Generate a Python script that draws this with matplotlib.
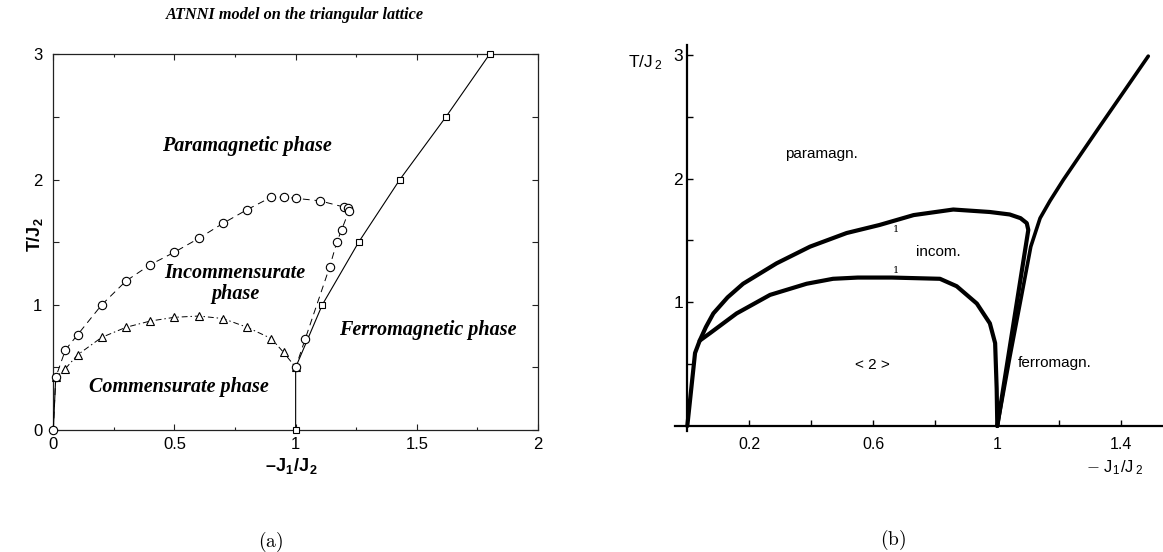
import matplotlib
matplotlib.use('Agg')

import matplotlib.pyplot as plt
from matplotlib.ticker import MultipleLocator

plt.rcParams['font.family'] = ['Liberation Sans', 'DejaVu Sans']
plt.rcParams['mathtext.fontset'] = 'cm'

# ---- panel (a): ATNNI model, simulation points ----
circ_x = [0.0, 0.01, 0.05, 0.1, 0.2, 0.3, 0.4, 0.5, 0.6, 0.7, 0.8, 0.9, 0.95, 1.0,
          1.1, 1.2, 1.215, 1.22, 1.19, 1.17, 1.14, 1.04, 1.0]
circ_y = [0.0, 0.42, 0.64, 0.76, 1.0, 1.19, 1.32, 1.42, 1.53, 1.65, 1.76, 1.86, 1.86, 1.85,
          1.83, 1.78, 1.775, 1.75, 1.60, 1.50, 1.30, 0.73, 0.50]

tri_x = [0.01, 0.05, 0.1, 0.2, 0.3, 0.4, 0.5, 0.6, 0.7, 0.8, 0.9, 0.95, 1.0]
tri_y = [0.42, 0.49, 0.60, 0.74, 0.82, 0.87, 0.90, 0.91, 0.89, 0.82, 0.73, 0.62, 0.50]

sq_left_x = [0.0, 0.01]
sq_left_y = [0.0, 0.42]
sq_x = [1.0, 1.0, 1.11, 1.26, 1.43, 1.62, 1.8]
sq_y = [0.0, 0.5, 1.0, 1.5, 2.0, 2.5, 3.0]

phase_labels_a = ['Paramagnetic phase', 'Incommensurate\nphase', 'Commensurate phase',
                  'Ferromagnetic phase']
phase_pos_a = [(0.80, 2.27), (0.75, 1.17), (0.52, 0.34), (1.545, 0.80)]

# ---- panel (b): reference phase diagram ----
upper_x = [0.0, 0.025, 0.04, 0.06, 0.084, 0.13, 0.18, 0.288, 0.396, 0.514, 0.62, 0.73,
           0.858, 0.976, 1.04, 1.075, 1.095, 1.10, 1.0]
upper_y = [0.0, 0.59, 0.69, 0.80, 0.91, 1.04, 1.15, 1.315, 1.45, 1.56, 1.625, 1.705,
           1.75, 1.73, 1.71, 1.68, 1.64, 1.585, 0.0]

lower_x = [0.04, 0.073, 0.159, 0.267, 0.385, 0.47, 0.55, 0.66, 0.815, 0.869, 0.934,
           0.976, 0.993, 0.998, 1.0]
lower_y = [0.69, 0.75, 0.91, 1.06, 1.15, 1.19, 1.20, 1.20, 1.19, 1.13, 0.99,
           0.83, 0.67, 0.30, 0.0]

ferro_x = [1.0, 1.04, 1.078, 1.108, 1.138, 1.17, 1.213, 1.27, 1.33, 1.41, 1.487]
ferro_y = [0.0, 0.55, 1.05, 1.45, 1.68, 1.82, 1.99, 2.20, 2.42, 2.71, 2.99]

phase_labels_b = ['paramagn.', 'incom.', '< 2 >']
phase_pos_b = [(0.434, 2.2), (0.81, 1.41), (0.597, 0.49)]
ferro_label_pos = (1.067, 0.51)
mark_x = [0.673, 0.673]
mark_y = [1.59, 1.26]

fig = plt.figure(figsize=(11.63, 5.52), dpi=100)

# ---------------- (a) ----------------
ax = fig.add_axes([53.3 / 1163, 1 - 430 / 552, 484.7 / 1163, 375.7 / 552])
ax.set_xlim(0, 2)
ax.set_ylim(0, 3)

ax.plot(sq_left_x, sq_left_y, '-', color='black', lw=0.8, marker='s', ms=4.5,
        mfc='white', mec='black', mew=0.8, zorder=3, clip_on=False)
ax.plot(sq_x, sq_y, '-', color='black', lw=0.8, marker='s', ms=4.5,
        mfc='white', mec='black', mew=0.8, zorder=3, clip_on=False)
ax.plot(tri_x, tri_y, color='black', lw=0.7, dashes=(6, 3, 1.5, 3), marker='^', ms=5.5,
        mfc='white', mec='black', mew=0.8, zorder=4, clip_on=False)
ax.plot(circ_x, circ_y, color='black', lw=0.7, dashes=(7, 5), marker='o', ms=6,
        mfc='white', mec='black', mew=0.8, zorder=5, clip_on=False)

for lab, (px, py) in zip(phase_labels_a, phase_pos_a):
    ax.text(px, py, lab, ha='center', va='center', family='Liberation Serif',
            style='italic', weight='bold', fontsize=14.5, linespacing=1.05)

ax.xaxis.set_major_locator(MultipleLocator(0.5))
ax.xaxis.set_minor_locator(MultipleLocator(0.25))
ax.yaxis.set_major_locator(MultipleLocator(1))
ax.yaxis.set_minor_locator(MultipleLocator(0.5))
ax.set_xticks([0, 0.5, 1, 1.5, 2], ['0', '0.5', '1', '1.5', '2'])
ax.tick_params(which='both', direction='in', top=True, right=True, color='#222222')
ax.tick_params(which='major', length=4.5, width=0.8)
ax.tick_params(which='minor', length=2.5, width=0.8)
ax.tick_params(axis='x', labelsize=12, pad=5)
ax.tick_params(axis='y', labelsize=12, pad=8)
ax.tick_params(axis='y', which='minor', length=4.5)
for sp in ax.spines.values():
    sp.set_linewidth(0.9)
    sp.set_color('#222222')

ax.text(0.492, -0.098, r'–J$_\mathregular{1}$/J$_\mathregular{2}$', transform=ax.transAxes,
        ha='center', va='center', fontsize=13, weight='bold')
ax.text(-0.036, 0.52, r'T/J$_\mathregular{2}$', transform=ax.transAxes, rotation=90,
        ha='center', va='center', fontsize=13, weight='bold')

fig.text(295 / 1163, 1 - 15 / 552, 'ATNNI model on the triangular lattice',
         ha='center', va='center', family='Liberation Serif', style='italic',
         weight='bold', fontsize=11.7)

# ---------------- (b) ----------------
x0, x1 = -0.04, 1.535
y0, y1 = -0.04, 3.08
left_px = 687.3 + x0 * 310
bottom_px = 426 - y0 * 123.7
bx = fig.add_axes([left_px / 1163, 1 - bottom_px / 552,
                   (x1 - x0) * 310 / 1163, (y1 - y0) * 123.7 / 552])
bx.set_xlim(x0, x1)
bx.set_ylim(y0, y1)
bx.spines['top'].set_visible(False)
bx.spines['right'].set_visible(False)
bx.spines['left'].set_position(('data', 0))
bx.spines['bottom'].set_position(('data', 0))
for sp in ('left', 'bottom'):
    bx.spines[sp].set_linewidth(1.6)

lw_b = 3.0
bx.plot(upper_x, upper_y, color='black', lw=lw_b, solid_joinstyle='round',
        solid_capstyle='round')
bx.plot(lower_x, lower_y, color='black', lw=lw_b, solid_joinstyle='round',
        solid_capstyle='round')
bx.plot(ferro_x, ferro_y, color='black', lw=2.6, solid_joinstyle='round',
        solid_capstyle='round')

bx.set_xticks([0.2, 0.4, 0.6, 0.8, 1.0, 1.2, 1.4], ['0.2', '', '0.6', '', '1', '', '1.4'])
bx.set_yticks([0.5, 1, 1.5, 2, 2.5, 3], ['', '1', '', '2', '', '3'])
bx.tick_params(direction='in', length=4, width=1.0, labelsize=11.5)
bx.tick_params(axis='x', pad=8)
bx.tick_params(axis='y', pad=3, labelsize=12.5)

for lab, (px, py) in zip(phase_labels_b, phase_pos_b):
    bx.text(px, py, lab, ha='center', va='center', fontsize=11)
bx.text(ferro_label_pos[0], ferro_label_pos[1], 'ferromagn.', ha='left', va='center',
        fontsize=11)
for mx, my in zip(mark_x, mark_y):
    bx.text(mx, my, '1', ha='center', va='center', family='DejaVu Serif', fontsize=7)

bx.text(-0.136, 2.94, r'T/J$_{\,\mathregular{2}}$', ha='center', va='center', fontsize=12.5)
bx.text(1.38, -0.34, r'$-$ J$_{\mathregular{1}}$/J$_{\,\mathregular{2}}$', ha='center',
        va='center', fontsize=12)

fig.text(271 / 1163, 1 - 541.7 / 552, r'$\mathrm{(a)}$', ha='center', va='center',
         fontsize=14)
fig.text(893 / 1163, 1 - 540 / 552, r'$\mathrm{(b)}$', ha='center', va='center',
         fontsize=14)

fig.savefig('out.png', dpi=100)
